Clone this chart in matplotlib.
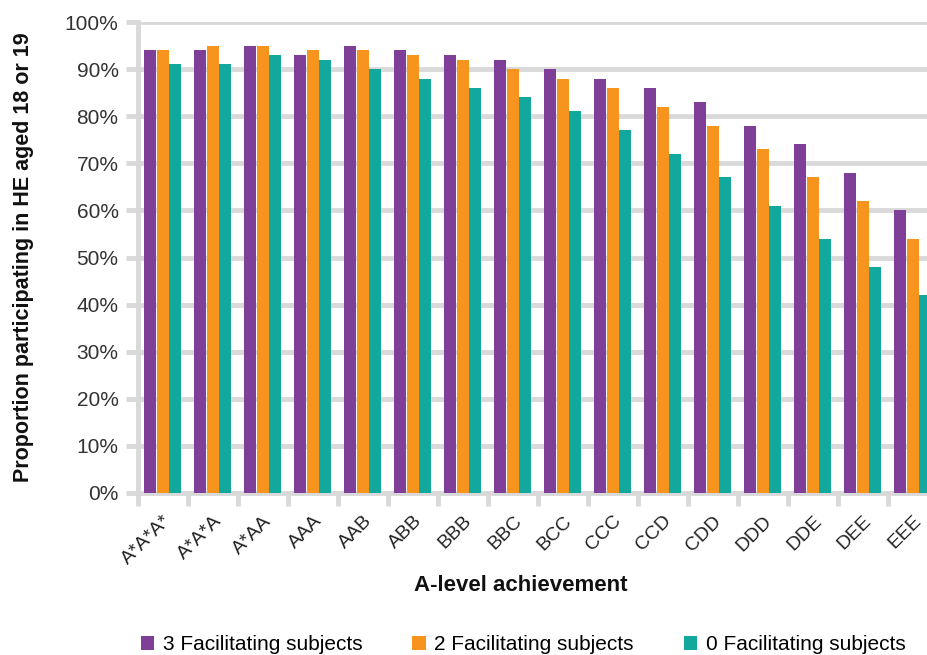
import matplotlib
matplotlib.use("Agg")
import matplotlib.pyplot as plt
import numpy as np

categories = ["A*A*A*", "A*A*A", "A*AA", "AAA", "AAB", "ABB", "BBB", "BBC",
              "BCC", "CCC", "CCD", "CDD", "DDD", "DDE", "DEE", "EEE"]
three_fac = [94, 94, 95, 93, 95, 94, 93, 92, 90, 88, 86, 83, 78, 74, 68, 60]
two_fac = [94, 95, 95, 94, 94, 93, 92, 90, 88, 86, 82, 78, 73, 67, 62, 54]
zero_fac = [91, 91, 93, 92, 90, 88, 86, 84, 81, 77, 72, 67, 61, 54, 48, 42]
series_names = ["3 Facilitating subjects", "2 Facilitating subjects", "0 Facilitating subjects"]
colors = ["#7F3F98", "#F7941D", "#12A89D"]

plt.rcParams['font.family'] = ['Liberation Sans', 'DejaVu Sans']

W, H = 928, 655
fig = plt.figure(figsize=(W / 100, H / 100), dpi=100)
ax = fig.add_axes([138 / W, 1 - 493 / H, 800 / W, (493 - 22) / H])

x = np.arange(len(categories))
bw = 0.24
offsets = [-0.255, 0.0, 0.24]
grid_c = "#D9D9D9"
for vals, c, name, off in zip([three_fac, two_fac, zero_fac], colors, series_names, offsets):
    ax.bar(x + off, vals, width=bw, color=c, label=name, zorder=3, linewidth=0)

ax.set_xlim(-0.5, len(categories) - 0.5)
ax.set_ylim(0, 100)
ax.set_yticks(np.arange(0, 101, 10))
ax.set_yticklabels([f"{v}%" for v in range(0, 101, 10)], fontsize=15, color="#333333")
ax.yaxis.grid(True, color=grid_c, linewidth=3.5, zorder=0)
ax.set_axisbelow(True)

ax.set_xticks(x)
ax.set_xticklabels(categories, rotation=45, ha="right", rotation_mode="anchor",
                   fontsize=14, color="#222222")
ax.set_xticks(np.arange(-0.5, len(categories), 1), minor=True)
ax.tick_params(axis="x", which="major", length=0, pad=14)
ax.tick_params(axis="x", which="minor", length=9, width=3.5, color=grid_c, direction="out")
ax.tick_params(axis="y", length=9, width=3.5, color=grid_c, pad=5)

for s in ["top", "right"]:
    ax.spines[s].set_visible(False)
ax.spines["left"].set_color(grid_c)
ax.spines["left"].set_linewidth(3.5)
ax.spines["bottom"].set_color(grid_c)
ax.spines["bottom"].set_linewidth(3.5)

ax.set_ylabel("Proportion participating in HE aged 18 or 19", fontsize=15.5,
              fontweight="bold", color="#111111")
ax.yaxis.set_label_coords(-0.13, 0.5)
ax.set_xlabel("A-level achievement", fontsize=16, fontweight="bold", color="#111111")
ax.xaxis.set_label_coords(0.479, -0.175)

handles, labels = ax.get_legend_handles_labels()
fig.legend(handles, labels, loc="center", bbox_to_anchor=(523 / W, 1 - 645 / H),
           ncol=3, frameon=False, fontsize=15, handlelength=0.65, handleheight=0.65,
           columnspacing=2.4, handletextpad=0.4)

fig.savefig("out.png", dpi=100)
